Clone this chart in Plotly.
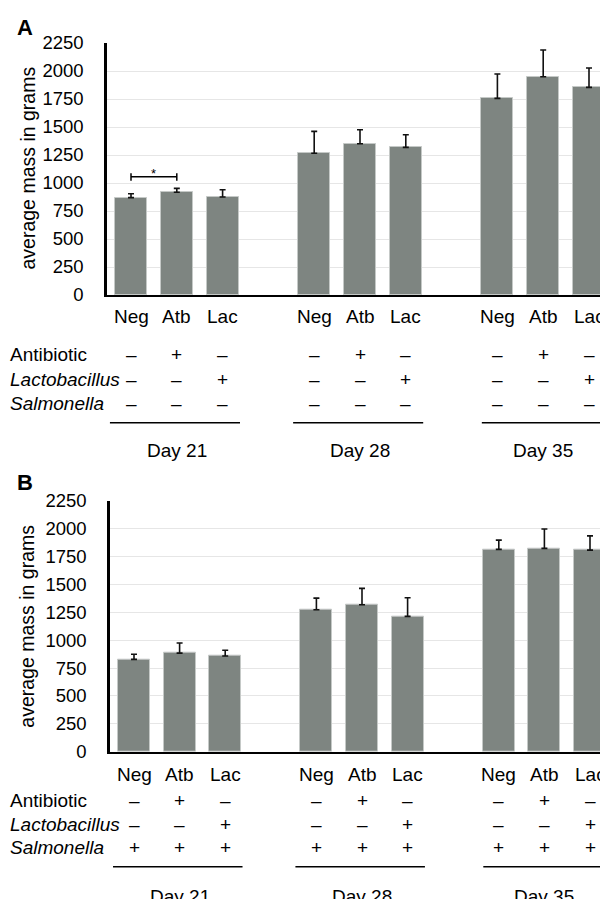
import plotly.graph_objects as go

# ---------------- data ----------------
days = ["Day 21", "Day 28", "Day 35"]
groups = ["Neg", "Atb", "Lac"]
mass_a = [869, 917, 875, 1265, 1351, 1318, 1756, 1949, 1854]
err_a = [35, 35, 65, 196, 125, 113, 217, 239, 173]
mass_b = [828, 884, 858, 1272, 1317, 1213, 1814, 1823, 1807]
err_b = [45, 90, 51, 105, 147, 167, 83, 173, 128]
row_labels = ["Antibiotic", "<i>Lactobacillus</i>", "<i>Salmonella</i>"]
antibiotic = ["–", "+", "–"]
lactobacillus = ["–", "–", "+"]
salmonella_a = ["–", "–", "–"]
salmonella_b = ["+", "+", "+"]
y_ticks = [0, 250, 500, 750, 1000, 1250, 1500, 1750, 2000, 2250]

W, H = 608, 899
OFF = 8  # page body margin in the browser
FONT = "Liberation Sans, Arial, Helvetica, sans-serif"
BAR = "#7e8581"
TXT = 19

# x positions: 3 bars per day, one empty slot between days
xpos = [d * 4 + i for d in range(len(days)) for i in range(len(groups))]
xlabels = [g for _ in days for g in groups]


def py(p):
    """screen pixel y -> paper fraction"""
    return 1 - (p - OFF) / H


def px(p):
    """screen pixel x -> paper fraction"""
    return max(p - OFF, 0) / W


fig = go.Figure()
for mass, err, xa, ya in [(mass_a, err_a, "x", "y"), (mass_b, err_b, "x2", "y2")]:
    fig.add_trace(go.Bar(
        x=xpos, y=mass, xaxis=xa, yaxis=ya, width=0.70,
        marker=dict(color=BAR, line=dict(color="#c5c9c7", width=1)),
        error_y=dict(type="data", array=err, symmetric=False, arrayminus=[0] * len(err),
                     color="#111111", thickness=1.6, width=3),
        showlegend=False, hoverinfo="skip",
    ))

panels = {
    "A": dict(top=43, bot=295, left=107, c0=131, slot=45.8,
              rows=[316.7, 355, 379.3, 403.3, 422.7, 450],
              salm=salmonella_a, letter_y=27, title_y=168.5, xa="x", ya="y"),
    "B": dict(top=500.7, bot=751.7, left=110, c0=134, slot=45.6,
              rows=[774, 800, 824.3, 847.3, 866.7, 896.7],
              salm=salmonella_b, letter_y=482, title_y=626.7, xa="x2", ya="y2"),
}

layout = dict(
    template="none",
    width=W, height=H, margin=dict(l=0, r=0, t=0, b=0, pad=0, autoexpand=False),
    paper_bgcolor="white", plot_bgcolor="white", bargap=0, showlegend=False,
    font=dict(family=FONT, size=TXT, color="black"),
)
annotations = []
shapes = []

for key, p in panels.items():
    xn = "xaxis" if p["xa"] == "x" else "xaxis2"
    yn = "yaxis" if p["ya"] == "y" else "yaxis2"
    xr = [(p["left"] - p["c0"]) / p["slot"], (W + OFF - p["c0"]) / p["slot"]]
    layout[xn] = dict(domain=[px(p["left"]), 1], anchor=p["ya"], range=xr,
                      showline=True, linecolor="black", linewidth=2, showgrid=False,
                      zeroline=False, showticklabels=False, ticks="", fixedrange=True,
                      automargin=False)
    layout[yn] = dict(domain=[py(p["bot"]), py(p["top"])], anchor=p["xa"], range=[0, 2250],
                      tickvals=y_ticks, ticktext=[str(v) for v in y_ticks],
                      showline=True, linecolor="black", linewidth=2.5,
                      showgrid=True, gridcolor="#e6e6e6", gridwidth=1,
                      zeroline=False, ticks="", ticklabelstandoff=17, automargin=False,
                      tickfont=dict(size=18.5, color="black"), fixedrange=True)
    r = p["rows"]
    # panel letter
    annotations.append(dict(text="<b>%s</b>" % key, x=px(15), y=py(p["letter_y"]), xref="paper",
                            yref="paper", xanchor="left", yanchor="middle", showarrow=False,
                            font=dict(size=22)))
    # y title
    annotations.append(dict(text="average mass in grams", x=px(27), y=py(p["title_y"]),
                            xref="paper", yref="paper", xanchor="center", yanchor="middle",
                            textangle=-90, showarrow=False, font=dict(size=19.5)))
    # category labels
    for xv, lab in zip(xpos, xlabels):
        annotations.append(dict(text=lab, x=xv, y=py(r[0]), xref=p["xa"], yref="paper",
                                xanchor="center", yanchor="middle", showarrow=False))
    # row labels
    for lab, yy in zip(row_labels, r[1:4]):
        annotations.append(dict(text=lab, x=px(7), y=py(yy), xref="paper", yref="paper",
                                xanchor="left", yanchor="middle", showarrow=False))
    # signs
    for signs, yy in zip([antibiotic, lactobacillus, p["salm"]], r[1:4]):
        for d in range(len(days)):
            for i, s in enumerate(signs):
                annotations.append(dict(text=s, x=d * 4 + i, y=py(yy), xref=p["xa"],
                                        yref="paper", xanchor="center", yanchor="middle",
                                        showarrow=False))
    # day underline and label
    for d, day in enumerate(days):
        x0 = d * 4 - 0.46 + (0.12 if d == 2 else 0)
        x1 = min(d * 4 + 2.38, xr[1])
        shapes.append(dict(type="line", xref=p["xa"], yref="paper", x0=x0, x1=x1,
                           y0=py(r[4]), y1=py(r[4]), line=dict(color="black", width=1.5)))
        annotations.append(dict(text=day, x=d * 4 + 1, y=py(r[5]), xref=p["xa"], yref="paper",
                                xanchor="center", yanchor="middle", showarrow=False))

# significance bracket (panel A, Neg vs Atb on Day 21)
sig_y, tick_lo, tick_hi = 1056, 1020, 1087
shapes.append(dict(type="line", xref="x", yref="y", x0=0, x1=1, y0=sig_y, y1=sig_y,
                   line=dict(color="black", width=1.5)))
for xv in (0, 1):
    shapes.append(dict(type="line", xref="x", yref="y", x0=xv, x1=xv, y0=tick_lo, y1=tick_hi,
                       line=dict(color="black", width=1.5)))
annotations.append(dict(text="*", x=0.5, y=1085, xref="x", yref="y", xanchor="center",
                        yanchor="middle", showarrow=False, font=dict(size=13)))

layout["annotations"] = annotations
layout["shapes"] = shapes
fig.update_layout(**layout)
fig.write_html("out.html")
